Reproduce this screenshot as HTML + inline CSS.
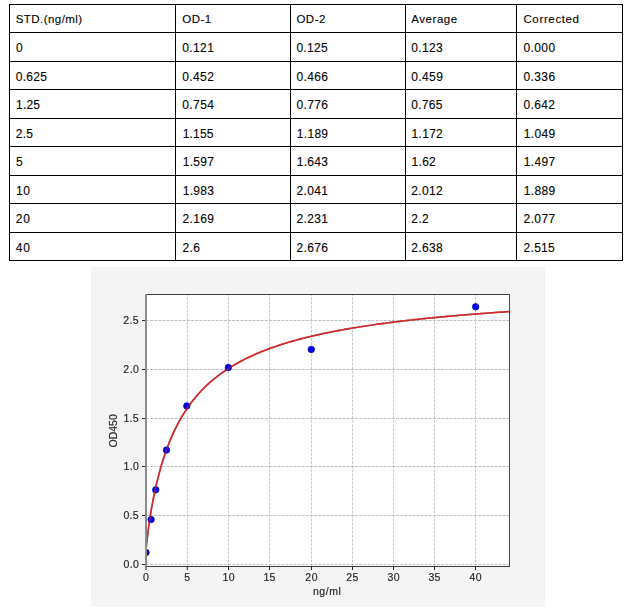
<!DOCTYPE html><html><head><meta charset="utf-8"><style>html,body{margin:0;padding:0;background:#fff;width:636px;height:610px;overflow:hidden}svg{display:block;position:absolute;left:0;top:0}#ch{will-change:transform}text{font-family:"Liberation Sans",sans-serif}</style></head><body>
<svg width="636" height="610" viewBox="0 0 636 610">
<rect x="0" y="0" width="636" height="610" fill="#fff"/>
<g fill="#000" shape-rendering="crispEdges">
<rect x="9" y="4" width="614" height="1"/>
<rect x="9" y="32" width="614" height="1"/>
<rect x="9" y="61" width="614" height="1"/>
<rect x="9" y="89" width="614" height="1"/>
<rect x="9" y="118" width="614" height="1"/>
<rect x="9" y="146" width="614" height="1"/>
<rect x="9" y="175" width="614" height="1"/>
<rect x="9" y="203" width="614" height="1"/>
<rect x="9" y="232" width="614" height="1"/>
<rect x="9" y="260" width="614" height="1"/>
<rect x="9" y="4" width="1" height="257"/>
<rect x="175" y="4" width="1" height="257"/>
<rect x="290" y="4" width="1" height="257"/>
<rect x="405" y="4" width="1" height="257"/>
<rect x="516" y="4" width="1" height="257"/>
<rect x="622" y="4" width="1" height="257"/>
</g>
<g fill="#000" stroke="#000" stroke-width="0.1">
<text x="15.68" y="23.00" font-size="11.5" textLength="66.53" lengthAdjust="spacing">STD.(ng/ml)</text>
<text x="182.33" y="23.00" font-size="11.5" textLength="28.85" lengthAdjust="spacing">OD-1</text>
<text x="296.44" y="23.00" font-size="11.5" textLength="28.90" lengthAdjust="spacing">OD-2</text>
<text x="411.35" y="23.00" font-size="11.5" textLength="45.85" lengthAdjust="spacing">Average</text>
<text x="523.43" y="23.00" font-size="11.5" textLength="55.60" lengthAdjust="spacing">Corrected</text>
<text x="15.99" y="51.80" font-size="12">0</text>
<text x="182.28" y="51.80" font-size="12" textLength="31.54" lengthAdjust="spacing">0.121</text>
<text x="296.39" y="51.80" font-size="12" textLength="31.26" lengthAdjust="spacing">0.125</text>
<text x="411.21" y="51.80" font-size="12" textLength="31.57" lengthAdjust="spacing">0.123</text>
<text x="523.45" y="51.80" font-size="12" textLength="31.68" lengthAdjust="spacing">0.000</text>
<text x="15.72" y="80.80" font-size="12" textLength="31.26" lengthAdjust="spacing">0.625</text>
<text x="182.28" y="80.80" font-size="12" textLength="31.59" lengthAdjust="spacing">0.452</text>
<text x="296.39" y="80.80" font-size="12" textLength="31.62" lengthAdjust="spacing">0.466</text>
<text x="411.21" y="80.80" font-size="12" textLength="31.67" lengthAdjust="spacing">0.459</text>
<text x="523.45" y="80.80" font-size="12" textLength="31.62" lengthAdjust="spacing">0.336</text>
<text x="16.11" y="108.80" font-size="12" textLength="23.88" lengthAdjust="spacing">1.25</text>
<text x="182.28" y="108.80" font-size="12" textLength="31.70" lengthAdjust="spacing">0.754</text>
<text x="296.39" y="108.80" font-size="12" textLength="31.62" lengthAdjust="spacing">0.776</text>
<text x="411.21" y="108.80" font-size="12" textLength="31.26" lengthAdjust="spacing">0.765</text>
<text x="523.45" y="108.80" font-size="12" textLength="31.59" lengthAdjust="spacing">0.642</text>
<text x="15.85" y="137.80" font-size="12" textLength="17.14" lengthAdjust="spacing">2.5</text>
<text x="182.67" y="137.80" font-size="12" textLength="30.87" lengthAdjust="spacing">1.155</text>
<text x="296.78" y="137.80" font-size="12" textLength="31.28" lengthAdjust="spacing">1.189</text>
<text x="411.60" y="137.80" font-size="12" textLength="31.20" lengthAdjust="spacing">1.172</text>
<text x="523.84" y="137.80" font-size="12" textLength="31.28" lengthAdjust="spacing">1.049</text>
<text x="15.91" y="165.80" font-size="12">5</text>
<text x="182.67" y="165.80" font-size="12" textLength="31.34" lengthAdjust="spacing">1.597</text>
<text x="296.78" y="165.80" font-size="12" textLength="31.18" lengthAdjust="spacing">1.643</text>
<text x="411.60" y="165.80" font-size="12" textLength="24.21" lengthAdjust="spacing">1.62</text>
<text x="523.84" y="165.80" font-size="12" textLength="31.34" lengthAdjust="spacing">1.497</text>
<text x="16.11" y="194.80" font-size="12" textLength="13.82" lengthAdjust="spacing">10</text>
<text x="182.67" y="194.80" font-size="12" textLength="31.18" lengthAdjust="spacing">1.983</text>
<text x="296.52" y="194.80" font-size="12" textLength="31.41" lengthAdjust="spacing">2.041</text>
<text x="411.34" y="194.80" font-size="12" textLength="31.46" lengthAdjust="spacing">2.012</text>
<text x="523.84" y="194.80" font-size="12" textLength="31.28" lengthAdjust="spacing">1.889</text>
<text x="15.85" y="222.80" font-size="12" textLength="14.08" lengthAdjust="spacing">20</text>
<text x="182.41" y="222.80" font-size="12" textLength="31.54" lengthAdjust="spacing">2.169</text>
<text x="296.52" y="222.80" font-size="12" textLength="31.41" lengthAdjust="spacing">2.231</text>
<text x="411.34" y="222.80" font-size="12" textLength="17.47" lengthAdjust="spacing">2.2</text>
<text x="523.58" y="222.80" font-size="12" textLength="31.60" lengthAdjust="spacing">2.077</text>
<text x="15.79" y="251.80" font-size="12" textLength="14.14" lengthAdjust="spacing">40</text>
<text x="182.41" y="251.80" font-size="12" textLength="17.50" lengthAdjust="spacing">2.6</text>
<text x="296.52" y="251.80" font-size="12" textLength="31.49" lengthAdjust="spacing">2.676</text>
<text x="411.34" y="251.80" font-size="12" textLength="31.41" lengthAdjust="spacing">2.638</text>
<text x="523.58" y="251.80" font-size="12" textLength="31.13" lengthAdjust="spacing">2.515</text>
</g>
</svg><svg id="ch" width="636" height="610" viewBox="0 0 636 610">
<rect x="91" y="267" width="454" height="340" fill="#f4f4f4"/>
<rect x="146.0" y="294.5" width="363.5" height="272.0" fill="#fff"/>
<g stroke="#b0b0b0" stroke-width="0.8" stroke-dasharray="2.85 1.25" fill="none">
<line x1="187.3" y1="566.5" x2="187.3" y2="294.5" stroke="#bababa"/>
<line x1="228.5" y1="566.5" x2="228.5" y2="294.5" stroke="#bababa"/>
<line x1="269.5" y1="566.5" x2="269.5" y2="294.5" stroke="#bababa"/>
<line x1="311.5" y1="566.5" x2="311.5" y2="294.5" stroke="#bababa"/>
<line x1="352.5" y1="566.5" x2="352.5" y2="294.5" stroke="#bababa"/>
<line x1="393.5" y1="566.5" x2="393.5" y2="294.5" stroke="#bababa"/>
<line x1="434.5" y1="566.5" x2="434.5" y2="294.5" stroke="#bababa"/>
<line x1="475.5" y1="566.5" x2="475.5" y2="294.5" stroke="#bababa"/>
<line x1="146.0" y1="564.5" x2="509.5" y2="564.5"/>
<line x1="146.0" y1="515.5" x2="509.5" y2="515.5"/>
<line x1="146.0" y1="466.5" x2="509.5" y2="466.5"/>
<line x1="146.0" y1="418.5" x2="509.5" y2="418.5"/>
<line x1="146.0" y1="369.5" x2="509.5" y2="369.5"/>
<line x1="146.0" y1="320.5" x2="509.5" y2="320.5"/>
</g>
<clipPath id="ax"><rect x="146.0" y="294.5" width="363.5" height="272.0"/></clipPath>
<g clip-path="url(#ax)">
<polyline points="146.00,550.38 146.07,549.40 146.14,548.57 146.21,547.79 146.28,547.03 146.35,546.30 146.42,545.59 146.49,544.89 146.56,544.20 146.63,543.53 146.70,542.87 146.77,542.22 146.84,541.58 146.91,540.95 146.98,540.32 147.05,539.71 147.12,539.10 147.19,538.49 147.26,537.89 147.33,537.30 147.40,536.72 147.47,536.14 147.54,535.56 147.61,534.99 147.68,534.43 147.75,533.87 147.82,533.32 147.88,532.77 147.95,532.22 148.02,531.68 148.09,531.14 148.16,530.61 148.23,530.08 148.30,529.56 148.37,529.04 148.44,528.52 148.51,528.00 148.58,527.49 148.65,526.99 148.72,526.48 148.79,525.98 148.86,525.49 148.93,524.99 149.00,524.50 149.07,524.02 149.14,523.53 149.21,523.05 149.28,522.57 149.35,522.10 149.42,521.63 149.49,521.16 149.56,520.69 149.63,520.23 149.70,519.76 149.77,519.31 149.84,518.85 149.91,518.40 149.98,517.95 150.05,517.50 150.12,517.05 150.49,514.70 150.87,512.42 151.24,510.19 151.62,508.03 151.99,505.92 152.37,503.86 152.74,501.85 153.11,499.89 153.49,497.97 153.86,496.09 154.24,494.26 154.61,492.47 154.99,490.71 155.36,488.99 155.74,487.30 156.11,485.65 156.48,484.03 156.86,482.44 157.23,480.88 157.61,479.36 157.98,477.85 158.36,476.38 158.73,474.93 159.11,473.51 159.48,472.11 159.85,470.74 160.23,469.39 160.60,468.06 160.98,466.76 161.35,465.47 161.73,464.21 162.10,462.97 162.47,461.75 162.85,460.54 163.22,459.36 163.60,458.19 163.97,457.04 164.35,455.91 164.72,454.79 165.10,453.69 165.47,452.61 165.84,451.54 166.22,450.49 166.59,449.45 166.97,448.43 167.34,447.42 167.72,446.43 168.09,445.44 168.47,444.48 168.84,443.52 169.21,442.58 169.59,441.65 169.96,440.73 170.34,439.82 170.71,438.93 171.09,438.05 171.46,437.18 171.84,436.32 172.21,435.46 172.58,434.63 172.96,433.80 173.33,432.98 173.71,432.17 174.08,431.37 174.46,430.58 174.83,429.80 175.21,429.02 175.58,428.26 175.95,427.51 176.33,426.76 176.70,426.03 177.08,425.30 177.45,424.58 177.83,423.87 178.20,423.16 178.58,422.46 178.95,421.78 179.32,421.09 179.70,420.42 180.07,419.75 180.45,419.09 180.82,418.44 181.20,417.79 181.57,417.15 181.95,416.52 182.32,415.90 182.69,415.28 183.07,414.66 183.44,414.06 183.82,413.45 184.19,412.86 184.57,412.27 184.94,411.69 185.32,411.11 185.69,410.54 186.06,409.97 186.44,409.41 186.81,408.86 187.19,408.31 188.81,405.98 190.43,403.75 192.06,401.60 193.68,399.54 195.30,397.55 196.92,395.63 198.55,393.79 200.17,392.00 201.79,390.28 203.41,388.61 205.04,387.00 206.66,385.45 208.28,383.94 209.90,382.47 211.53,381.06 213.15,379.68 214.77,378.35 216.40,377.05 218.02,375.79 219.64,374.57 221.26,373.38 222.89,372.23 224.51,371.10 226.13,370.01 227.75,368.94 229.38,367.90 231.00,366.89 232.62,365.90 234.24,364.94 235.87,364.00 237.49,363.08 239.11,362.18 240.74,361.31 242.36,360.46 243.98,359.62 245.60,358.80 247.23,358.01 248.85,357.23 250.47,356.46 252.09,355.72 253.72,354.98 255.34,354.27 256.96,353.57 258.58,352.88 260.21,352.21 261.83,351.55 263.45,350.90 265.08,350.27 266.70,349.65 268.32,349.04 269.94,348.44 271.57,347.86 273.19,347.28 274.81,346.72 276.43,346.16 278.06,345.62 279.68,345.08 281.30,344.56 282.92,344.04 284.55,343.53 286.17,343.04 287.79,342.55 289.42,342.06 291.04,341.59 292.66,341.13 294.28,340.67 295.91,340.22 297.53,339.77 299.15,339.34 300.77,338.91 302.40,338.49 304.02,338.07 305.64,337.66 307.26,337.26 308.89,336.86 310.51,336.47 312.13,336.09 313.76,335.71 315.38,335.33 317.00,334.96 318.62,334.60 320.25,334.24 321.87,333.89 323.49,333.54 325.11,333.20 326.74,332.86 328.36,332.53 329.98,332.20 331.60,331.88 333.23,331.56 334.85,331.24 336.47,330.93 338.10,330.62 339.72,330.32 341.34,330.02 342.96,329.73 344.59,329.43 346.21,329.15 347.83,328.86 349.45,328.58 351.08,328.30 352.70,328.03 354.32,327.76 355.94,327.49 357.57,327.23 359.19,326.97 360.81,326.71 362.44,326.46 364.06,326.21 365.68,325.96 367.30,325.71 368.93,325.47 370.55,325.23 372.17,325.00 373.79,324.76 375.42,324.53 377.04,324.30 378.66,324.08 380.28,323.85 381.91,323.63 383.53,323.41 385.15,323.20 386.78,322.98 388.40,322.77 390.02,322.56 391.64,322.35 393.27,322.15 394.89,321.95 396.51,321.75 398.13,321.55 399.76,321.35 401.38,321.16 403.00,320.97 404.62,320.77 406.25,320.59 407.87,320.40 409.49,320.22 411.12,320.03 412.74,319.85 414.36,319.67 415.98,319.50 417.61,319.32 419.23,319.15 420.85,318.97 422.47,318.80 424.10,318.63 425.72,318.47 427.34,318.30 428.96,318.14 430.59,317.97 432.21,317.81 433.83,317.65 435.45,317.50 437.08,317.34 438.70,317.18 440.32,317.03 441.95,316.88 443.57,316.73 445.19,316.58 446.81,316.43 448.44,316.28 450.06,316.14 451.68,315.99 453.30,315.85 454.93,315.71 456.55,315.57 458.17,315.43 459.79,315.29 461.42,315.15 463.04,315.02 464.66,314.88 466.29,314.75 467.91,314.62 469.53,314.49 471.15,314.36 472.78,314.23 474.40,314.10 476.02,313.97 477.64,313.85 479.27,313.72 480.89,313.60 482.51,313.47 484.13,313.35 485.76,313.23 487.38,313.11 489.00,312.99 490.63,312.88 492.25,312.76 493.87,312.64 495.49,312.53 497.12,312.41 498.74,312.30 500.36,312.19 501.98,312.08 503.61,311.96 505.23,311.85 506.85,311.75 508.47,311.64 510.10,311.53" fill="none" stroke="#cc2a2c" stroke-width="1.65" stroke-linejoin="round"/>
<circle cx="146.00" cy="552.50" r="3.25" fill="#0000ee" stroke="#0000aa" stroke-width="0.7"/>
<circle cx="151.10" cy="519.50" r="3.25" fill="#0000ee" stroke="#0000aa" stroke-width="0.7"/>
<circle cx="155.75" cy="489.80" r="3.25" fill="#0000ee" stroke="#0000aa" stroke-width="0.7"/>
<circle cx="166.45" cy="450.10" r="3.25" fill="#0000ee" stroke="#0000aa" stroke-width="0.7"/>
<circle cx="186.80" cy="405.90" r="3.25" fill="#0000ee" stroke="#0000aa" stroke-width="0.7"/>
<circle cx="228.35" cy="367.60" r="3.25" fill="#0000ee" stroke="#0000aa" stroke-width="0.7"/>
<circle cx="311.30" cy="349.40" r="3.25" fill="#0000ee" stroke="#0000aa" stroke-width="0.7"/>
<circle cx="475.65" cy="306.80" r="3.25" fill="#0000ee" stroke="#0000aa" stroke-width="0.7"/>
<polyline points="146.00,550.38 146.07,549.40 146.14,548.57 146.21,547.79 146.28,547.03 146.35,546.30 146.42,545.59 146.49,544.89 146.56,544.20 146.63,543.53 146.70,542.87 146.77,542.22 146.84,541.58 146.91,540.95 146.98,540.32 147.05,539.71 147.12,539.10 147.19,538.49 147.26,537.89 147.33,537.30 147.40,536.72 147.47,536.14 147.54,535.56 147.61,534.99 147.68,534.43 147.75,533.87 147.82,533.32 147.88,532.77 147.95,532.22 148.02,531.68 148.09,531.14 148.16,530.61 148.23,530.08 148.30,529.56 148.37,529.04 148.44,528.52 148.51,528.00 148.58,527.49 148.65,526.99 148.72,526.48 148.79,525.98 148.86,525.49 148.93,524.99 149.00,524.50 149.07,524.02 149.14,523.53 149.21,523.05 149.28,522.57 149.35,522.10 149.42,521.63 149.49,521.16 149.56,520.69 149.63,520.23 149.70,519.76 149.77,519.31 149.84,518.85 149.91,518.40 149.98,517.95 150.05,517.50 150.12,517.05 150.49,514.70 150.87,512.42 151.24,510.19 151.62,508.03 151.99,505.92 152.37,503.86 152.74,501.85 153.11,499.89 153.49,497.97 153.86,496.09 154.24,494.26 154.61,492.47 154.99,490.71 155.36,488.99 155.74,487.30 156.11,485.65 156.48,484.03 156.86,482.44 157.23,480.88 157.61,479.36 157.98,477.85 158.36,476.38 158.73,474.93 159.11,473.51 159.48,472.11 159.85,470.74 160.23,469.39 160.60,468.06 160.98,466.76 161.35,465.47 161.73,464.21 162.10,462.97 162.47,461.75 162.85,460.54 163.22,459.36 163.60,458.19 163.97,457.04 164.35,455.91 164.72,454.79 165.10,453.69 165.47,452.61 165.84,451.54 166.22,450.49 166.59,449.45 166.97,448.43 167.34,447.42 167.72,446.43 168.09,445.44 168.47,444.48 168.84,443.52 169.21,442.58 169.59,441.65 169.96,440.73 170.34,439.82 170.71,438.93 171.09,438.05 171.46,437.18 171.84,436.32 172.21,435.46 172.58,434.63 172.96,433.80 173.33,432.98 173.71,432.17 174.08,431.37 174.46,430.58 174.83,429.80 175.21,429.02 175.58,428.26 175.95,427.51 176.33,426.76 176.70,426.03 177.08,425.30 177.45,424.58 177.83,423.87 178.20,423.16 178.58,422.46 178.95,421.78 179.32,421.09 179.70,420.42 180.07,419.75 180.45,419.09 180.82,418.44 181.20,417.79 181.57,417.15 181.95,416.52 182.32,415.90 182.69,415.28 183.07,414.66 183.44,414.06 183.82,413.45 184.19,412.86 184.57,412.27 184.94,411.69 185.32,411.11 185.69,410.54 186.06,409.97 186.44,409.41 186.81,408.86 187.19,408.31 188.81,405.98 190.43,403.75 192.06,401.60 193.68,399.54 195.30,397.55 196.92,395.63 198.55,393.79 200.17,392.00 201.79,390.28 203.41,388.61 205.04,387.00 206.66,385.45 208.28,383.94 209.90,382.47 211.53,381.06 213.15,379.68 214.77,378.35 216.40,377.05 218.02,375.79 219.64,374.57 221.26,373.38 222.89,372.23 224.51,371.10 226.13,370.01 227.75,368.94 229.38,367.90 231.00,366.89 232.62,365.90 234.24,364.94 235.87,364.00 237.49,363.08 239.11,362.18 240.74,361.31 242.36,360.46 243.98,359.62 245.60,358.80 247.23,358.01 248.85,357.23 250.47,356.46 252.09,355.72 253.72,354.98 255.34,354.27 256.96,353.57 258.58,352.88 260.21,352.21 261.83,351.55 263.45,350.90 265.08,350.27 266.70,349.65 268.32,349.04 269.94,348.44 271.57,347.86 273.19,347.28 274.81,346.72 276.43,346.16 278.06,345.62 279.68,345.08 281.30,344.56 282.92,344.04 284.55,343.53 286.17,343.04 287.79,342.55 289.42,342.06 291.04,341.59 292.66,341.13 294.28,340.67 295.91,340.22 297.53,339.77 299.15,339.34 300.77,338.91 302.40,338.49 304.02,338.07 305.64,337.66 307.26,337.26 308.89,336.86 310.51,336.47 312.13,336.09 313.76,335.71 315.38,335.33 317.00,334.96 318.62,334.60 320.25,334.24 321.87,333.89 323.49,333.54 325.11,333.20 326.74,332.86 328.36,332.53 329.98,332.20 331.60,331.88 333.23,331.56 334.85,331.24 336.47,330.93 338.10,330.62 339.72,330.32 341.34,330.02 342.96,329.73 344.59,329.43 346.21,329.15 347.83,328.86 349.45,328.58 351.08,328.30 352.70,328.03 354.32,327.76 355.94,327.49 357.57,327.23 359.19,326.97 360.81,326.71 362.44,326.46 364.06,326.21 365.68,325.96 367.30,325.71 368.93,325.47 370.55,325.23 372.17,325.00 373.79,324.76 375.42,324.53 377.04,324.30 378.66,324.08 380.28,323.85 381.91,323.63 383.53,323.41 385.15,323.20 386.78,322.98 388.40,322.77 390.02,322.56 391.64,322.35 393.27,322.15 394.89,321.95 396.51,321.75 398.13,321.55 399.76,321.35 401.38,321.16 403.00,320.97 404.62,320.77 406.25,320.59 407.87,320.40 409.49,320.22 411.12,320.03 412.74,319.85 414.36,319.67 415.98,319.50 417.61,319.32 419.23,319.15 420.85,318.97 422.47,318.80 424.10,318.63 425.72,318.47 427.34,318.30 428.96,318.14 430.59,317.97 432.21,317.81 433.83,317.65 435.45,317.50 437.08,317.34 438.70,317.18 440.32,317.03 441.95,316.88 443.57,316.73 445.19,316.58 446.81,316.43 448.44,316.28 450.06,316.14 451.68,315.99 453.30,315.85 454.93,315.71 456.55,315.57 458.17,315.43 459.79,315.29 461.42,315.15 463.04,315.02 464.66,314.88 466.29,314.75 467.91,314.62 469.53,314.49 471.15,314.36 472.78,314.23 474.40,314.10 476.02,313.97 477.64,313.85 479.27,313.72 480.89,313.60 482.51,313.47 484.13,313.35 485.76,313.23 487.38,313.11 489.00,312.99 490.63,312.88 492.25,312.76 493.87,312.64 495.49,312.53 497.12,312.41 498.74,312.30 500.36,312.19 501.98,312.08 503.61,311.96 505.23,311.85 506.85,311.75 508.47,311.64 510.10,311.53" fill="none" stroke="#cc2a2c" stroke-width="1.65" stroke-opacity="0.55" stroke-linejoin="round"/>
</g>
<g shape-rendering="crispEdges">
<rect x="145" y="294" width="365" height="1" fill="#3c3c3c"/>
<rect x="145" y="566" width="365" height="1" fill="#3c3c3c"/>
<rect x="145" y="294" width="2" height="273" fill="#8a8a8a"/>
<rect x="509" y="294" width="1" height="273" fill="#4a4a4a"/>
</g>
<g stroke="#222" stroke-width="1.0">
<line x1="146.0" y1="566.5" x2="146.0" y2="570"/>
<line x1="187.3" y1="566.5" x2="187.3" y2="570"/>
<line x1="228.5" y1="566.5" x2="228.5" y2="570"/>
<line x1="269.5" y1="566.5" x2="269.5" y2="570"/>
<line x1="311.5" y1="566.5" x2="311.5" y2="570"/>
<line x1="352.5" y1="566.5" x2="352.5" y2="570"/>
<line x1="393.5" y1="566.5" x2="393.5" y2="570"/>
<line x1="434.5" y1="566.5" x2="434.5" y2="570"/>
<line x1="475.5" y1="566.5" x2="475.5" y2="570"/>
<line x1="145" y1="564.5" x2="142" y2="564.5"/>
<line x1="145" y1="515.5" x2="142" y2="515.5"/>
<line x1="145" y1="466.5" x2="142" y2="466.5"/>
<line x1="145" y1="418.5" x2="142" y2="418.5"/>
<line x1="145" y1="369.5" x2="142" y2="369.5"/>
<line x1="145" y1="320.5" x2="142" y2="320.5"/>
</g>
<g font-size="10.5" fill="#222" stroke="#222" stroke-width="0.15">
<text x="143.08" y="581.00" font-size="10.5">0</text>
<text x="184.34" y="581.00" font-size="10.5">5</text>
<text x="222.44" y="581.00" font-size="10.5" textLength="12.17" lengthAdjust="spacing">10</text>
<text x="263.44" y="581.00" font-size="10.5" textLength="11.99" lengthAdjust="spacing">15</text>
<text x="305.34" y="581.00" font-size="10.5" textLength="12.27" lengthAdjust="spacing">20</text>
<text x="346.34" y="581.00" font-size="10.5" textLength="12.09" lengthAdjust="spacing">25</text>
<text x="387.50" y="581.00" font-size="10.5" textLength="12.11" lengthAdjust="spacing">30</text>
<text x="428.50" y="581.00" font-size="10.5" textLength="11.93" lengthAdjust="spacing">35</text>
<text x="469.39" y="581.00" font-size="10.5" textLength="12.22" lengthAdjust="spacing">40</text>
<text x="123.42" y="567.80" font-size="10.5" textLength="15.40" lengthAdjust="spacing">0.0</text>
<text x="123.42" y="518.80" font-size="10.5" textLength="15.22" lengthAdjust="spacing">0.5</text>
<text x="123.47" y="469.80" font-size="10.5" textLength="15.35" lengthAdjust="spacing">1.0</text>
<text x="123.47" y="421.80" font-size="10.5" textLength="15.17" lengthAdjust="spacing">1.5</text>
<text x="123.37" y="372.80" font-size="10.5" textLength="15.45" lengthAdjust="spacing">2.0</text>
<text x="123.37" y="323.80" font-size="10.5" textLength="15.27" lengthAdjust="spacing">2.5</text>
<text x="312.90" y="594.80" font-size="10.5" textLength="28.00" lengthAdjust="spacing">ng/ml</text>
<text transform="translate(116.8,447.50) rotate(-90)" textLength="33.31" lengthAdjust="spacing">OD450</text>
</g>
</svg></body></html>
